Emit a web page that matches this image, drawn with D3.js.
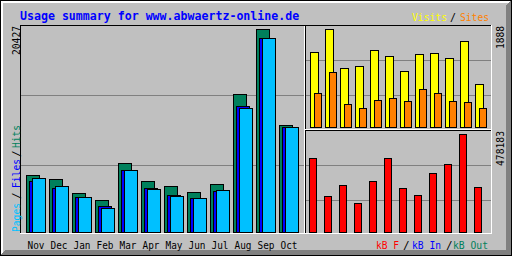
<!DOCTYPE html>
<html>
<head>
<meta charset="utf-8">
<script src="https://cdn.jsdelivr.net/npm/d3@7"></script>
<style>
	html, body { margin: 0; padding: 0; background: #c0c0c0; }
	svg { display: block; }
	text { font-family: "DejaVu Sans Mono", "Liberation Mono", monospace; }
</style>
</head>
<body>
<script>
const title = "Usage summary for www.abwaertz-online.de";
const months = ["Nov", "Dec", "Jan", "Feb", "Mar", "Apr", "May", "Jun", "Jul", "Aug", "Sep", "Oct"];

// main panel
const hits = [5736, 5333, 3925, 3220, 6943, 5132, 4629, 4025, 4830, 13887, 20427, 10767];
const files = [5132, 4398, 3522, 2616, 6239, 4428, 3723, 3421, 4126, 12679, 19522, 10566];
const pages = [5404, 4629, 3522, 2415, 6239, 4327, 3623, 3421, 4226, 12478, 19522, 10566];

// top right panel
const visits = [1439, 1888, 1131, 1170, 1478, 1362, 1073, 1401, 1420, 1324, 1651, 823];
const sites = [649, 1054, 437, 360, 515, 553, 495, 726, 649, 495, 476, 360];

// bottom right panel
const kbF = [359600, 174200, 227900, 140000, 247400, 359600, 213200, 179100, 286400, 330300, 478183, 218100];

const C = {
	grey: "#c0c0c0",
	dkgrey: "#808080",
	black: "#000000",
	white: "#ffffff",
	blue: "#0000ff",
	ltblue: "#00c0ff",
	dkgreen: "#00805c",
	yellow: "#ffff00",
	orange: "#ff8000",
	red: "#ff0000",
};

const WIDTH = 512;
const HEIGHT = 256;
const SMALL = "11px"; // stands in for gd's 6x13 font
const CHAR_W = 6;

const svg = d3
	.select("body")
	.append("svg")
	.attr("width", WIDTH)
	.attr("height", HEIGHT)
	.attr("xmlns", "http://www.w3.org/2000/svg");

const frame = svg.append("g").attr("shape-rendering", "crispEdges");

// ---- frame -------------------------
frame.append("rect").attr("width", WIDTH).attr("height", HEIGHT).attr("fill", C.grey);

function hline(g, x1, x2, y, color) {
	g.append("line")
		.attr("x1", x1).attr("x2", x2 + 1)
		.attr("y1", y + 0.5).attr("y2", y + 0.5)
		.attr("stroke", color);
}
function vline(g, x, y1, y2, color) {
	g.append("line")
		.attr("x1", x + 0.5).attr("x2", x + 0.5)
		.attr("y1", y1).attr("y2", y2 + 1)
		.attr("stroke", color);
}

// shadow edges
for (let i = 1; i <= 2; i++) {
	hline(frame, 1, WIDTH - 2, i, C.white);
	vline(frame, i, 1, HEIGHT - 2, C.white);
}
for (let i = 1; i <= 5; i++) {
	hline(frame, i, WIDTH - 2, HEIGHT - 1 - i, C.dkgrey);
	vline(frame, WIDTH - 1 - i, i, HEIGHT - 2, C.dkgrey);
}
frame.append("rect")
	.attr("x", 0.5).attr("y", 0.5)
	.attr("width", WIDTH - 1).attr("height", HEIGHT - 1)
	.attr("fill", "none").attr("stroke", C.black);

// grid lines
[95, 165].forEach(y => hline(frame, 21, 303, y, C.dkgrey));
[60, 95, 165, 200].forEach(y => hline(frame, 306, 490, y, C.dkgrey));

// chart box
hline(frame, 20, 490, 25, C.black);
vline(frame, 20, 25, 232, C.black);
vline(frame, 491, 25, 233, C.white);
hline(frame, 20, 491, 233, C.white);
vline(frame, 304, 26, 232, C.white);
vline(frame, 305, 26, 232, C.black);
hline(frame, 305, 490, 129, C.white);
hline(frame, 306, 490, 130, C.black);

// ---- scales -------------------------
const xMain = d3.scaleBand().domain(months).range([26, 26 + 23 * months.length]);
const xSide = d3.scaleBand().domain(months).range([310, 310 + 15 * months.length]);

const yMain = d3.scaleLinear().domain([0, d3.max(hits)]).range([232, 29]);
const yVisits = d3.scaleLinear().domain([0, d3.max(visits)]).range([127, 29]);
const yKb = d3.scaleLinear().domain([0, d3.max(kbF)]).range([232, 134]);

// draws one series of gd style boxes: filled, black outline, pixel inclusive
function bars(values, xScale, offset, width, yScale, color) {
	const base = yScale(0);
	svg.append("g")
		.attr("shape-rendering", "crispEdges")
		.selectAll("rect")
		.data(values.map((v, i) => ({ m: months[i], v })).filter(d => d.v > 0))
		.join("rect")
		.attr("x", d => xScale(d.m) + offset + 0.5)
		.attr("y", d => Math.round(yScale(d.v)) + 0.5)
		.attr("width", width)
		.attr("height", d => base - Math.round(yScale(d.v)))
		.attr("fill", color)
		.attr("stroke", C.black);
}

bars(hits, xMain, 0, 13, yMain, C.dkgreen);
bars(files, xMain, 3, 13, yMain, C.blue);
bars(pages, xMain, 6, 13, yMain, C.ltblue);

bars(visits, xSide, 0, 8, yVisits, C.yellow);
bars(sites, xSide, 4, 7, yVisits, C.orange);

bars(kbF, xSide, -1, 7, yKb, C.red);

// ---- text -------------------------
svg.append("text")
	.attr("x", 20)
	.attr("y", 19.5)
	.attr("font-size", "11.6px")
	.attr("font-weight", "bold")
	.attr("fill", C.blue)
	.text(title);

// keep gd's fixed 6px advance while using a slightly taller face
function fit(sel, str) {
	if (str.length > 1) {
		sel.attr("textLength", str.length * CHAR_W - 1).attr("lengthAdjust", "spacingAndGlyphs");
	}
	return sel;
}

svg.append("g")
	.selectAll("text")
	.data(months)
	.join("text")
	.attr("x", d => xMain(d) + 1.5)
	.attr("y", 249)
	.attr("font-size", SMALL)
	.attr("fill", C.black)
	.attr("textLength", 17)
	.attr("lengthAdjust", "spacingAndGlyphs")
	.text(d => d);

function label(x, y, str, color, size) {
	const t = svg.append("text")
		.attr("x", x).attr("y", y)
		.attr("font-size", size || SMALL)
		.attr("fill", color)
		.text(str);
	fit(t, str);
}
function labelUp(x, y, str, color, anchor) {
	const t = svg.append("text")
		.attr("transform", `translate(${x},${y}) rotate(-90)`)
		.attr("text-anchor", anchor || "start")
		.attr("font-size", SMALL)
		.attr("fill", color)
		.text(str);
	fit(t, str);
}

// max values
labelUp(19.5, 26, String(d3.max(hits)), C.black, "end");
labelUp(504, 26, String(d3.max(visits)), C.black, "end");
labelUp(504, 131, String(d3.max(kbF)), C.black, "end");

// legends
labelUp(19.5, 232, "Pages", C.ltblue);
labelUp(19.5, 199, "/", C.black);
labelUp(19.5, 188, "Files", C.blue);
labelUp(19.5, 157, "/", C.black);
labelUp(19.5, 148, "Hits", C.dkgreen);

label(412, 20.5, "Visits", C.yellow, "10px");
label(450, 20.5, "/", C.black, "10px");
label(460, 20.5, "Sites", C.orange, "10px");

label(376, 249, "kB F", C.red);
label(403, 249, "/", C.black);
label(412, 249, "kB In", C.blue);
label(446, 249, "/", C.black);
label(453, 249, "kB Out", C.dkgreen);
</script>
</body>
</html>
